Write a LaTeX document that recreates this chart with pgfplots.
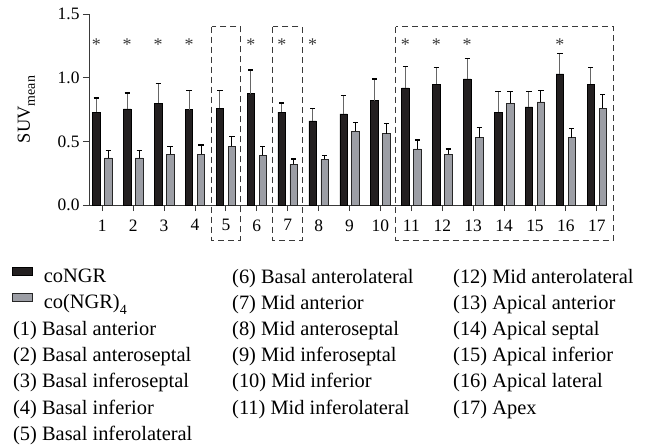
\documentclass[border=0pt]{standalone}
\usepackage{fontspec}
\setmainfont{Liberation Serif}
\usepackage{pgfplots}
\usepackage{pgfplotstable}
\pgfplotsset{compat=1.18}
\definecolor{barblack}{HTML}{231F20}
\definecolor{bargray}{HTML}{9C9EA5}
\definecolor{axgray}{HTML}{3A3A3A}
\newcommand\tfont{\fontsize{17.5}{20}\selectfont}
\newcommand\lfont{\fontsize{20.5}{24}\selectfont}
\newcommand\sub[1]{\raisebox{-0.28em}{\fontsize{14}{14}\selectfont #1}}

% xb, xg: bar centres (category -/+ 0.194)
\pgfplotstableread{
cat xb     xg     b     be    g    ge
1   0.806  1.194  0.73  0.11  0.37 0.06
2   1.806  2.194  0.755 0.125 0.37 0.06
3   2.806  3.194  0.80  0.155 0.40 0.06
4   3.806  4.194  0.75  0.15  0.40 0.07
5   4.806  5.194  0.76  0.14  0.46 0.08
6   5.806  6.194  0.875 0.185 0.39 0.07
7   6.806  7.194  0.73  0.07  0.32 0.04
8   7.806  8.194  0.66  0.10  0.36 0.03
9   8.806  9.194  0.715 0.145 0.58 0.07
10  9.806  10.194 0.82  0.17  0.56 0.08
11  10.806 11.194 0.92  0.17  0.44 0.07
12  11.806 12.194 0.95  0.13  0.40 0.04
13  12.806 13.194 0.99  0.16  0.53 0.08
14  13.806 14.194 0.73  0.16  0.80 0.09
15  14.806 15.194 0.77  0.12  0.81 0.09
16  15.806 16.194 1.03  0.16  0.53 0.07
17  16.806 17.194 0.95  0.13  0.76 0.11
}\data

\begin{document}
\begin{tikzpicture}
\useasboundingbox (-89bp,205bp) rectangle (562bp,-242bp);
\begin{axis}[
  at={(0,0)}, anchor=south west,
  scale only axis, width=518bp, height=191bp,
  xmin=0.57, xmax=17.33, ymin=0, ymax=1.5,
  axis x line=bottom, axis y line=left,
  axis line style={-, axgray, line width=0.9bp},
  xtick={1,...,17}, ytick={0,0.5,1,1.5},
  tick align=outside, major tick length=6bp,
  tick style={axgray, line width=0.9bp},
  minor tick num=0,
  tick label style={font=\tfont, color=black},
  xticklabel style={yshift=-5bp},
  /pgf/number format/assume math mode=true,
  yticklabel style={/pgf/number format/.cd, fixed, fixed zerofill, precision=1},
  clip=false,
  ylabel={\fontsize{18.5}{20}\selectfont SUV\sub{mean}},
  ylabel style={at={(axis description cs:-0.121,0.5)}, anchor=center},
  legend style={at={(axis description cs:0,0)}, anchor=north west,
    xshift=-77bp, yshift=-61.5bp, draw=none, fill=none, inner sep=0pt,
    font=\lfont, row sep=8.2bp,
    nodes={inner sep=0pt, text height=15bp, text depth=3bp},
    /tikz/every odd column/.style={column sep=11bp}},
  legend cell align=left,
  legend image code/.code={\draw[#1, line width=0.6bp] (0bp,1bp) rectangle (20bp,9bp);},
]
\addplot[ybar, bar width=7.5bp, bar shift=0pt, fill=barblack, draw=black, line width=0.6bp,
  error bars/.cd, y dir=plus, y explicit, error mark=|,
  error bar style={color=black!60, line width=1bp},
  error mark options={mark size=2.6bp, line width=1.4bp, color=black}]
  table[x=xb, y=b, y error=be]{\data};
\addlegendentry{coNGR}
\addplot[ybar, bar width=7.5bp, bar shift=0pt, fill=bargray, draw=black!85, line width=0.6bp,
  error bars/.cd, y dir=plus, y explicit, error mark=|,
  error bar style={color=black, line width=1bp},
  error mark options={mark size=2.6bp, line width=1.4bp, color=black}]
  table[x=xg, y=g, y error=ge]{\data};
\addlegendentry{co(NGR)\sub{4}}
\addplot[only marks, mark=text, text mark={*}, text mark as node=true,
  text mark style={font=\fontsize{18}{18}\selectfont, color=axgray}, forget plot]
  coordinates {(0.806,1.26) (1.806,1.26) (2.806,1.26) (3.806,1.26) (5.806,1.26)
  (6.806,1.26) (7.806,1.26) (10.806,1.26) (11.806,1.26) (12.806,1.26) (15.806,1.26)};
\draw[axgray, line width=0.9bp, dash pattern=on 6bp off 4bp] (axis cs:4.54,1.40) rectangle (axis cs:5.48,-0.275);
\draw[axgray, line width=0.9bp, dash pattern=on 6bp off 4bp] (axis cs:6.51,1.40) rectangle (axis cs:7.47,-0.275);
\draw[axgray, line width=0.9bp, dash pattern=on 6bp off 4bp] (axis cs:10.50,1.40) rectangle (axis cs:17.54,-0.275);
\end{axis}
\begin{scope}[every node/.style={anchor=base west, inner sep=0pt, font=\lfont}]
\node at (-76bp,-130.4bp) {(1) Basal anterior};
\node at (-76bp,-156.6bp) {(2) Basal anteroseptal};
\node at (-76bp,-182.8bp) {(3) Basal inferoseptal};
\node at (-76bp,-209bp) {(4) Basal inferior};
\node at (-76bp,-235.2bp) {(5) Basal inferolateral};
\node at (143bp,-78bp) {(6) Basal anterolateral};
\node at (143bp,-104.2bp) {(7) Mid anterior};
\node at (143bp,-130.4bp) {(8) Mid anteroseptal};
\node at (143bp,-156.6bp) {(9) Mid inferoseptal};
\node at (143bp,-182.8bp) {(10) Mid inferior};
\node at (143bp,-209bp) {(11) Mid inferolateral};
\node at (364bp,-78bp) {(12) Mid anterolateral};
\node at (364bp,-104.2bp) {(13) Apical anterior};
\node at (364bp,-130.4bp) {(14) Apical septal};
\node at (364bp,-156.6bp) {(15) Apical inferior};
\node at (364bp,-182.8bp) {(16) Apical lateral};
\node at (364bp,-209bp) {(17) Apex};
\end{scope}
\end{tikzpicture}
\end{document}
